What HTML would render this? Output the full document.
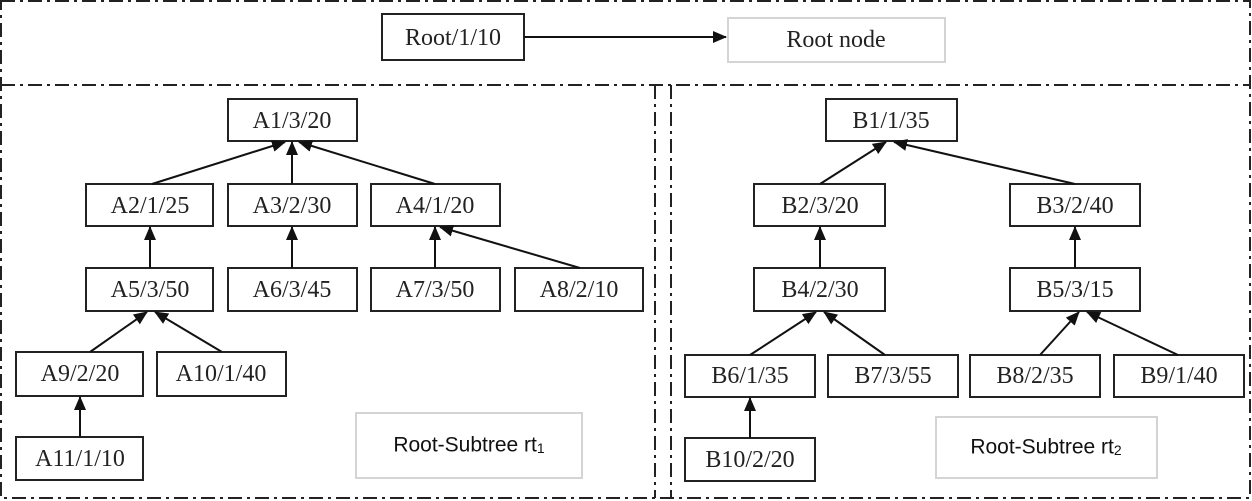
<!DOCTYPE html>
<html><head><meta charset="utf-8"><style>
body{margin:0;background:#fff}
svg{display:block}
.n{fill:#fff;stroke:#222;stroke-width:2}
.g{fill:#fff;stroke:#d4d4d4;stroke-width:2}
text{font-family:"Liberation Serif",serif;font-size:24px;fill:#222;text-anchor:middle;dominant-baseline:central}
.s{font-family:"Liberation Sans",sans-serif;font-size:21px;fill:#111}
.d{fill:none;stroke:#222;stroke-width:2;stroke-dasharray:14,5,3,5}
.e{stroke:#111;stroke-width:2;marker-end:url(#a)}
</style></head><body>
<svg width="1252" height="501" viewBox="0 0 1252 501">
<defs><marker id="a" markerWidth="14" markerHeight="14" refX="13" refY="7" orient="auto" markerUnits="userSpaceOnUse"><path d="M0,1 L14,7 L0,13 z" fill="#111"/></marker></defs>
<rect class="d" x="1" y="1" width="1249" height="497"/>
<line class="d" x1="1" y1="85" x2="1250" y2="85"/>
<line class="d" x1="655" y1="85" x2="655" y2="498"/>
<line class="d" x1="671" y1="85" x2="671" y2="498"/>
<g>
<rect class="n" x="382" y="14" width="142" height="46"/><text x="453" y="38">Root/1/10</text>
<rect class="g" x="728" y="18" width="217" height="44"/><text x="836" y="40">Root node</text>
<line class="e" x1="524" y1="37" x2="726" y2="37"/>
</g>
<g>
<rect class="n" x="228" y="99" width="129" height="42"/><text x="292" y="121">A1/3/20</text>
<rect class="n" x="86" y="184" width="127" height="42"/><text x="150" y="206">A2/1/25</text>
<rect class="n" x="228" y="184" width="129" height="42"/><text x="292" y="206">A3/2/30</text>
<rect class="n" x="371" y="184" width="129" height="42"/><text x="435" y="206">A4/1/20</text>
<rect class="n" x="86" y="268" width="127" height="43"/><text x="150" y="290">A5/3/50</text>
<rect class="n" x="228" y="268" width="129" height="43"/><text x="292" y="290">A6/3/45</text>
<rect class="n" x="371" y="268" width="129" height="43"/><text x="435" y="290">A7/3/50</text>
<rect class="n" x="515" y="268" width="128" height="43"/><text x="579" y="290">A8/2/10</text>
<rect class="n" x="16" y="352" width="127" height="44"/><text x="80" y="374">A9/2/20</text>
<rect class="n" x="157" y="352" width="129" height="44"/><text x="221" y="374">A10/1/40</text>
<rect class="n" x="16" y="437" width="127" height="43"/><text x="80" y="459">A11/1/10</text>
<rect class="g" x="356" y="413" width="226" height="65"/><text class="s" x="469" y="445">Root-Subtree rt<tspan font-size="14" dy="3">1</tspan></text>
<line class="e" x1="152" y1="184" x2="285" y2="142"/>
<line class="e" x1="292" y1="184" x2="292" y2="142"/>
<line class="e" x1="435" y1="184" x2="299" y2="142"/>
<line class="e" x1="150" y1="268" x2="150" y2="227"/>
<line class="e" x1="292" y1="268" x2="292" y2="227"/>
<line class="e" x1="435" y1="268" x2="435" y2="227"/>
<line class="e" x1="580" y1="268" x2="440" y2="227"/>
<line class="e" x1="90" y1="352" x2="147" y2="312"/>
<line class="e" x1="222" y1="352" x2="155" y2="312"/>
<line class="e" x1="80" y1="437" x2="80" y2="397"/>
</g>
<g>
<rect class="n" x="826" y="99" width="131" height="42"/><text x="891" y="121">B1/1/35</text>
<rect class="n" x="754" y="184" width="131" height="42"/><text x="820" y="206">B2/3/20</text>
<rect class="n" x="1010" y="184" width="130" height="42"/><text x="1075" y="206">B3/2/40</text>
<rect class="n" x="754" y="268" width="131" height="43"/><text x="820" y="290">B4/2/30</text>
<rect class="n" x="1010" y="268" width="130" height="43"/><text x="1075" y="290">B5/3/15</text>
<rect class="n" x="685" y="355" width="130" height="42"/><text x="750" y="376">B6/1/35</text>
<rect class="n" x="828" y="355" width="130" height="42"/><text x="893" y="376">B7/3/55</text>
<rect class="n" x="970" y="355" width="130" height="42"/><text x="1035" y="376">B8/2/35</text>
<rect class="n" x="1114" y="355" width="130" height="42"/><text x="1179" y="376">B9/1/40</text>
<rect class="n" x="685" y="438" width="130" height="43"/><text x="750" y="460">B10/2/20</text>
<rect class="g" x="936" y="417" width="221" height="61"/><text class="s" x="1046" y="447">Root-Subtree rt<tspan font-size="14" dy="3">2</tspan></text>
<line class="e" x1="820" y1="184" x2="886" y2="142"/>
<line class="e" x1="1075" y1="184" x2="894" y2="142"/>
<line class="e" x1="820" y1="268" x2="820" y2="227"/>
<line class="e" x1="1075" y1="268" x2="1075" y2="227"/>
<line class="e" x1="750" y1="355" x2="816" y2="312"/>
<line class="e" x1="885" y1="355" x2="824" y2="312"/>
<line class="e" x1="1040" y1="355" x2="1079" y2="312"/>
<line class="e" x1="1178" y1="355" x2="1087" y2="312"/>
<line class="e" x1="750" y1="438" x2="750" y2="398"/>
</g>
</svg>
</body></html>
